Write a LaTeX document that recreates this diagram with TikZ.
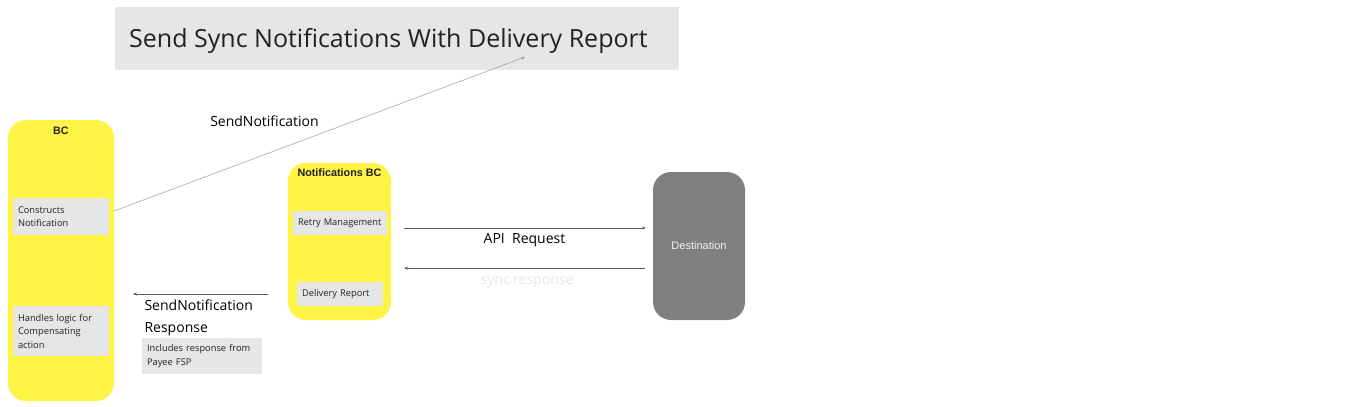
\documentclass[tikz,border=0pt]{standalone}
\usepackage{fontspec}
\setmainfont{Open Sans}
\newfontfamily\labelfont{Liberation Sans}
\usetikzlibrary{arrows.meta}
\definecolor{bcyellow}{HTML}{FFF345}
\definecolor{panelgray}{HTML}{E6E6E6}
\definecolor{destgray}{HTML}{808080}
\definecolor{linegray}{HTML}{5A5A5A}
\definecolor{titletext}{HTML}{222222}

\begin{document}
\begin{tikzpicture}[x=1pt,y=-1pt,
  yellowbox/.style={fill=bcyellow, rounded corners=18pt, inner sep=0pt},
  notebox/.style={fill=panelgray, inner xsep=5pt, inner ysep=0pt, align=left, text=titletext, font=\fontsize{9.3}{13.5}\selectfont},
  bclabel/.style={font=\labelfont\bfseries\fontsize{10.8}{12}\selectfont, text=titletext},
  flowlabel/.style={font=\fontsize{14}{21}\selectfont, text=black},
  flow/.style={draw=linegray, line width=0.5pt, -{Stealth[length=4pt,width=3pt]}},
  ]
  \useasboundingbox (0,0) rectangle (1350,407);

  % Define the title
  \node[fill=panelgray, anchor=north west, minimum width=564, minimum height=63, inner sep=0pt] (title) at (115,7) {};
  \node[anchor=base west, inner sep=0pt, text=titletext, font=\fontsize{25}{28}\selectfont] (titletxt) at (129,47.5) {Send Sync Notifications With Delivery Report};

  % Define the bounded contexts
  \node[yellowbox, minimum width=106, minimum height=281] (bc) at (61,260.5) {};
  \node[bclabel] (bclbl) at (61,131) {BC};
  \node[yellowbox, minimum width=103, minimum height=157] (nbc) at (339.5,241.5) {};
  \node[bclabel] (nbclbl) at (339.5,173) {Notifications BC};
  \node[fill=destgray, rounded corners=18pt, minimum width=92, minimum height=148, text=white!95!black, font=\labelfont\fontsize{11}{12}\selectfont] (dest) at (699,246) {Destination};

  % Define the notes
  \node[notebox, minimum width=96, minimum height=37, text width=86] (construct) at (61,216.5) {Constructs\\Notification};
  \node[notebox, minimum width=96, minimum height=50, text width=86] (compensate) at (61,331) {Handles logic for\\Compensating\\action};
  \node[notebox, minimum width=94, minimum height=24, text width=84] (retry) at (340,223) {Retry Management};
  \node[notebox, minimum width=86, minimum height=24, text width=76] (report) at (340,294) {Delivery Report};
  \node[notebox, minimum width=120, minimum height=36, text width=110] (payee) at (202,356) {Includes response from\\Payee FSP};

  % Define the end points
  \coordinate (sendstart) at (114,211);
  \coordinate (sendend) at (525,57);
  \coordinate (reqstart) at (404,228);
  \coordinate (reqend) at (646,228);
  \coordinate (respstart) at (645,268);
  \coordinate (respend) at (404,268);
  \coordinate (backstart) at (268,294);
  \coordinate (backend) at (133,294);

  % Draw the edges
  \draw[flow, draw=gray!80] (sendstart) -- (sendend);
  \draw[flow] (reqstart) -- (reqend);
  \draw[flow] (respstart) -- (respend);
  \draw[flow] (backstart) -- (backend);

  % Edge labels
  \node[flowlabel] (sendlbl) at (264.5,121.5) {SendNotification};
  \node[flowlabel] (reqlbl) at (524.5,240.5) {API\ \ Request};
  \node[flowlabel, text=panelgray] (resplbl) at (527,282) {sync response};
  \node[flowlabel, anchor=north west, align=left, font=\fontsize{14}{22}\selectfont] (backlbl) at (141,296) {SendNotification\\Response};
\end{tikzpicture}
\end{document}
